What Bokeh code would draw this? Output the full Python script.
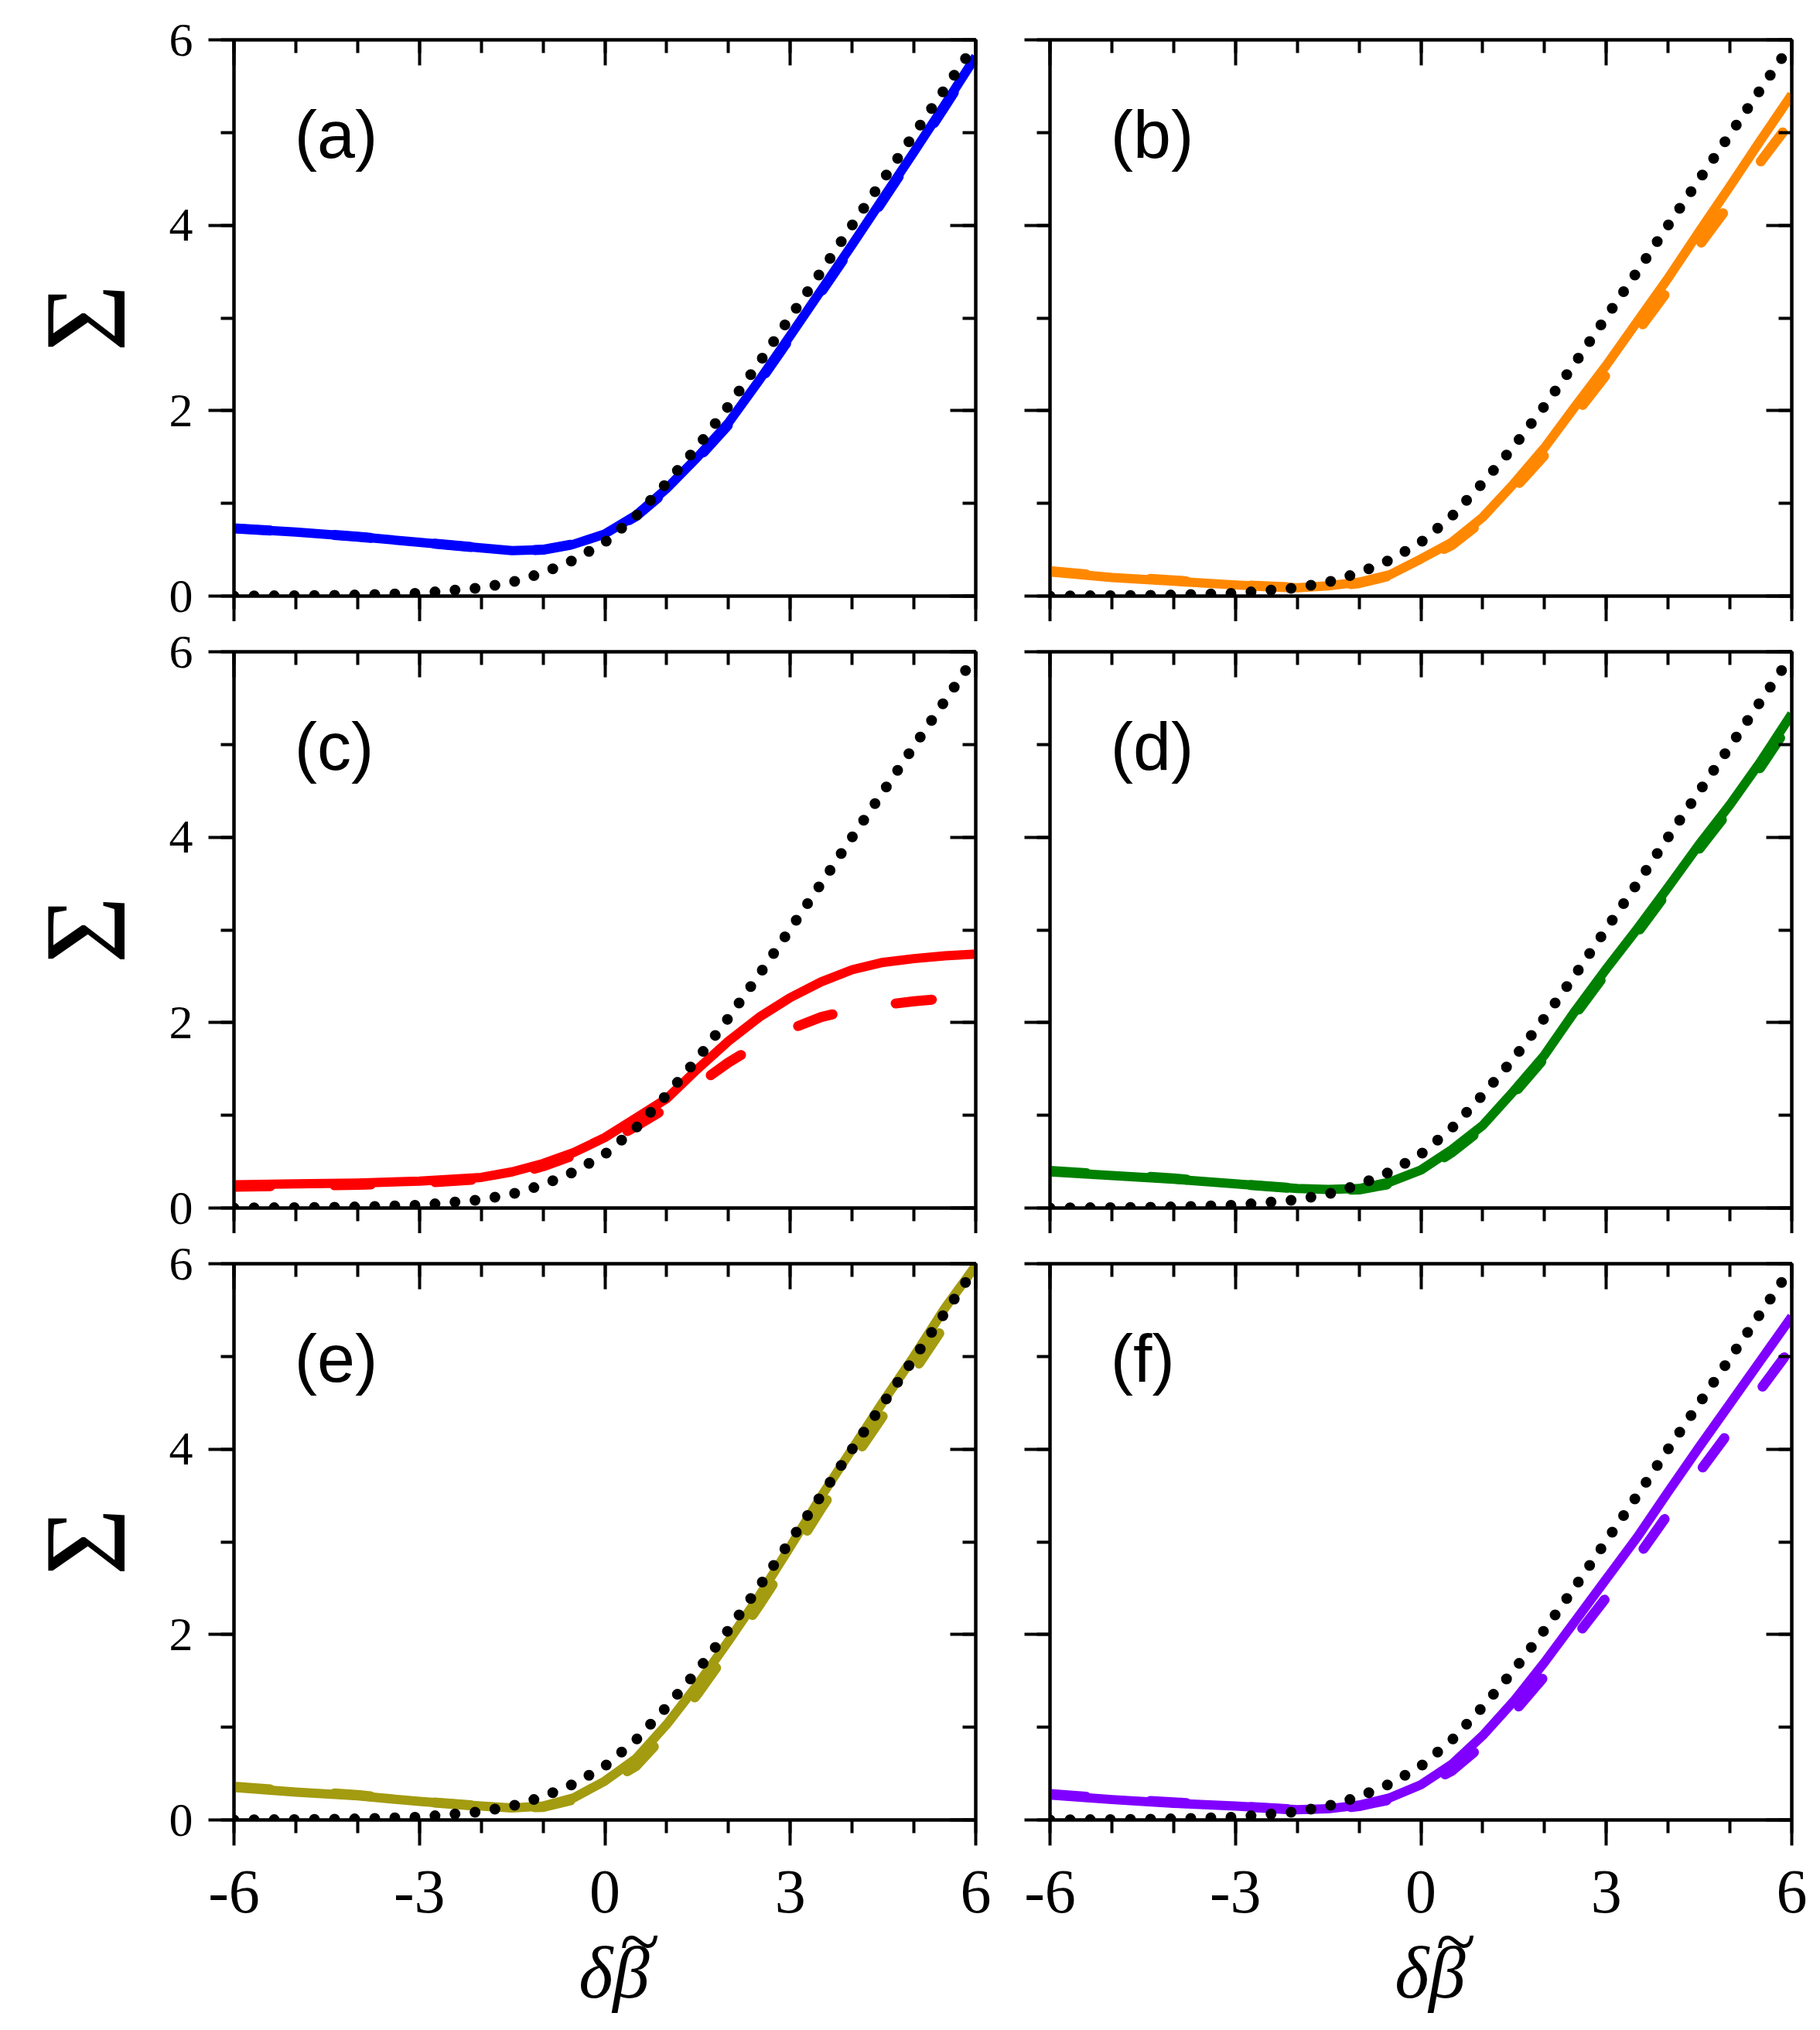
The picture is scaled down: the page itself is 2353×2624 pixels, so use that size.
from bokeh.plotting import figure
from bokeh.layouts import column, row
from bokeh.models import Range1d, FixedTicker, LinearAxis
from bokeh.core.properties import value
from bokeh.embed import file_html
from bokeh.resources import INLINE

# ---------------- data ----------------
x = [-6, -5, -4, -3, -2, -1.5, -1, -0.5, 0, 0.5, 1, 1.5, 2, 2.5, 3, 3.5, 4, 4.5, 5, 5.5, 6]

dotted = [0.0, 0.005, 0.012, 0.03, 0.09, 0.15, 0.25, 0.39, 0.58, 0.86, 1.22, 1.61, 2.05,
          2.52, 3.01, 3.5, 4.0, 4.49, 4.98, 5.47, 5.96]

a_solid = [0.73, 0.69, 0.64, 0.58, 0.52, 0.49, 0.50, 0.56, 0.67, 0.87, 1.16, 1.50, 1.87,
           2.33, 2.81, 3.30, 3.79, 4.29, 4.79, 5.30, 5.82]
a_dashed = [0.73, 0.69, 0.64, 0.58, 0.52, 0.49, 0.50, 0.56, 0.67, 0.86, 1.14, 1.48, 1.85,
            2.31, 2.79, 3.28, 3.77, 4.27, 4.77, 5.28, 5.80]

b_solid = [0.26, 0.20, 0.16, 0.12, 0.09, 0.11, 0.15, 0.23, 0.40, 0.58, 0.85, 1.21, 1.60,
           2.05, 2.49, 2.96, 3.43, 3.93, 4.42, 4.92, 5.41]
b_dashed = [0.27, 0.21, 0.17, 0.12, 0.09, 0.10, 0.14, 0.22, 0.38, 0.55, 0.81, 1.15, 1.52,
            1.96, 2.39, 2.85, 3.30, 3.78, 4.23, 4.69, 5.13]

c_solid = [0.25, 0.26, 0.27, 0.29, 0.33, 0.39, 0.48, 0.60, 0.76, 0.97, 1.18, 1.50, 1.80,
           2.06, 2.27, 2.44, 2.57, 2.65, 2.69, 2.72, 2.74]
c_dashed = [0.23, 0.24, 0.25, 0.27, 0.31, 0.36, 0.45, 0.57, 0.70, 0.88, 1.08, 1.33, 1.57,
            1.77, 1.93, 2.06, 2.14, 2.19, 2.23, 2.26, 2.28]

d_solid = [0.39, 0.35, 0.31, 0.26, 0.21, 0.20, 0.21, 0.28, 0.41, 0.63, 0.89, 1.26, 1.65,
           2.13, 2.58, 3.01, 3.46, 3.92, 4.35, 4.82, 5.33]
d_dashed = [0.40, 0.36, 0.32, 0.26, 0.21, 0.19, 0.20, 0.26, 0.38, 0.60, 0.86, 1.23, 1.62,
            2.09, 2.54, 2.97, 3.42, 3.87, 4.30, 4.76, 5.26]

e_solid = [0.35, 0.30, 0.26, 0.20, 0.15, 0.13, 0.15, 0.24, 0.42, 0.66, 1.03, 1.46, 1.93,
           2.42, 2.95, 3.49, 4.00, 4.51, 5.00, 5.52, 5.98]
e_dashed = [0.36, 0.31, 0.27, 0.20, 0.15, 0.13, 0.14, 0.22, 0.38, 0.58, 0.94, 1.36, 1.83,
            2.32, 2.83, 3.36, 3.87, 4.36, 4.84, 5.34, 5.78]

f_solid = [0.27, 0.22, 0.18, 0.15, 0.11, 0.12, 0.16, 0.24, 0.38, 0.60, 0.91, 1.28, 1.70,
           2.15, 2.60, 3.05, 3.54, 4.02, 4.49, 4.96, 5.43]
f_dashed = [0.28, 0.23, 0.19, 0.15, 0.11, 0.11, 0.15, 0.22, 0.35, 0.53, 0.81, 1.16, 1.55,
            1.97, 2.40, 2.83, 3.30, 3.75, 4.20, 4.65, 5.10]

panel_labels = ["(a)", "(b)", "(c)", "(d)", "(e)", "(f)"]
colors = ["#0000FF", "#FF8800", "#FF0000", "#008000", "#A39B10", "#8000FF"]
solids = [a_solid, b_solid, c_solid, d_solid, e_solid, f_solid]
dasheds = [a_dashed, b_dashed, c_dashed, d_dashed, e_dashed, f_dashed]

x_major = [-6, -3, 0, 3, 6]
x_minor = list(range(-6, 7))
x_tick_labels = ["-6", "-3", "0", "3", "6"]
y_major = [0, 2, 4, 6]
y_minor = list(range(0, 7))
y_tick_labels = ["0", "2", "4", "6"]

y_title = "\u03a3"                                 # Σ
x_title = "\u00a0\u03b4\u03b2"                     # δβ
x_title_accent = "\u00a0" * 3 + "\u2009" + "~"     # tilde sitting over β

# ---------------- layout ----------------
FW, FH = 959, 719
LEFT = [302, 48]
RIGHT = [48, 20]
TOP = [51, 39, 39]
BOTTOM = [33, 33, 256]


def style_axis(ax, major, minor, labels, outward, show_labels, size):
    ax.ticker = FixedTicker(ticks=major, minor_ticks=minor)
    ax.axis_line_width = 4
    ax.axis_line_color = "black"
    ax.major_tick_line_width = 4
    ax.minor_tick_line_width = 4
    ax.major_tick_line_color = "black"
    ax.minor_tick_line_color = "black"
    if outward:
        ax.major_tick_out, ax.major_tick_in = 33, 0
        ax.minor_tick_out, ax.minor_tick_in = 17, 0
    else:
        ax.major_tick_out, ax.major_tick_in = 0, 33
        ax.minor_tick_out, ax.minor_tick_in = 0, 17
    if show_labels:
        ax.major_label_overrides = {m: l for m, l in zip(major, labels)}
        ax.major_label_text_font = "Liberation Serif"
        ax.major_label_text_font_size = size
        ax.major_label_text_color = "black"
    else:
        ax.major_label_overrides = {m: "" for m in major}
        ax.major_label_text_font_size = "0px"
        ax.major_label_standoff = 0


plots = []
for i in range(6):
    r, c = i // 2, i % 2
    p = figure(width=LEFT[c] + FW + RIGHT[c], height=TOP[r] + FH + BOTTOM[r],
               x_range=Range1d(-6, 6), y_range=Range1d(0, 6),
               output_backend="svg", toolbar_location=None,
               min_border_left=LEFT[c], min_border_right=RIGHT[c],
               min_border_top=TOP[r], min_border_bottom=BOTTOM[r])
    p.grid.visible = False
    p.outline_line_color = "black"
    p.outline_line_width = 4
    p.background_fill_color = "white"
    p.border_fill_color = "white"

    bottom_ax = p.xaxis[0]
    left_ax = p.yaxis[0]
    top_ax = LinearAxis()
    right_ax = LinearAxis()
    p.add_layout(top_ax, "above")
    p.add_layout(right_ax, "right")

    style_axis(bottom_ax, x_major, x_minor, x_tick_labels, True, r == 2, "80px")
    style_axis(left_ax, y_major, y_minor, y_tick_labels, True, c == 0, "62px")
    style_axis(top_ax, x_major, x_minor, x_tick_labels, False, False, "0px")
    style_axis(right_ax, y_major, y_minor, y_tick_labels, False, False, "0px")

    if r == 2:
        bottom_ax.major_label_standoff = 33
        bottom_ax.axis_label = x_title
        bottom_ax.axis_label_text_font = "Liberation Serif"
        bottom_ax.axis_label_text_font_style = "italic"
        bottom_ax.axis_label_text_font_size = "95px"
        bottom_ax.axis_label_text_color = "black"
        bottom_ax.axis_label_standoff = 22
        # bare axis whose label is the tilde, pulled back up over β
        acc_ax = LinearAxis()
        p.add_layout(acc_ax, "below")
        acc_ax.ticker = FixedTicker(ticks=[], minor_ticks=[])
        acc_ax.axis_line_color = None
        acc_ax.major_tick_line_color = None
        acc_ax.minor_tick_line_color = None
        acc_ax.major_tick_out = 0
        acc_ax.minor_tick_out = 0
        acc_ax.major_label_text_font_size = "0px"
        acc_ax.major_label_standoff = 0
        acc_ax.axis_label = x_title_accent
        acc_ax.axis_label_text_font = "Liberation Serif"
        acc_ax.axis_label_text_font_style = "normal"
        acc_ax.axis_label_text_font_size = "95px"
        acc_ax.axis_label_text_color = "black"
        acc_ax.axis_label_standoff = -150
    if c == 0:
        left_ax.major_label_standoff = 20
        left_ax.axis_label = y_title
        left_ax.axis_label_text_font = "Liberation Serif"
        left_ax.axis_label_text_font_style = "normal"
        left_ax.axis_label_text_font_size = "150px"
        left_ax.axis_label_text_color = "black"
        left_ax.axis_label_standoff = 23

    p.line(x, solids[i], line_color=colors[i], line_width=12, line_join="round")
    p.line(x, dasheds[i], line_color=colors[i], line_width=13, line_dash="47 83",
           line_cap="round", line_join="round")
    p.line(x, dotted, line_color="black", line_width=14, line_dash="0 26",
           line_cap="round")

    p.text(x=[-5.02], y=[4.98], text=[panel_labels[i]], text_font=value("Liberation Sans"),
           text_font_size="88px", text_baseline="middle", text_align="left",
           text_color="black")
    plots.append(p)

layout = column(row(plots[0], plots[1]), row(plots[2], plots[3]), row(plots[4], plots[5]))

open("out.html", "w").write(file_html(layout, INLINE))
